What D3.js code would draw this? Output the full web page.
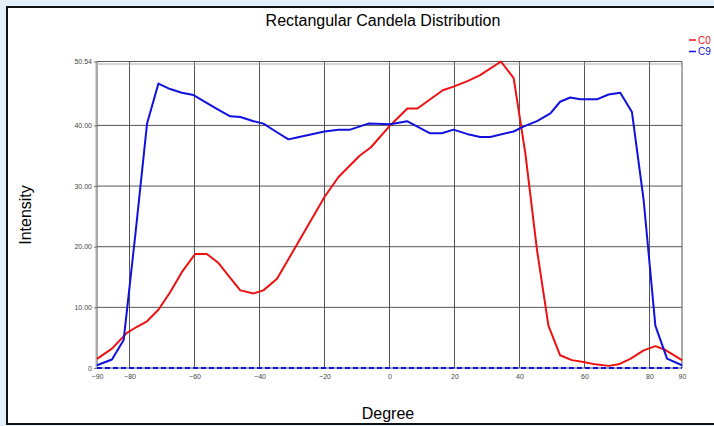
<!DOCTYPE html>
<html>
  <head>
    <meta charset="utf-8" />
    <title>Rectangular Candela Distribution</title>
    <script src="https://d3js.org/d3.v7.min.js"></script>
    <style>
      body { margin: 0; background: #e3eff9; }
      text { font-family: "Liberation Sans", Arial, sans-serif; }
    </style>
  </head>
  <body>
    <script>
      // C0 curve (degree, intensity)
      const c0Deg = [-90, -85.4, -80.8, -77.7, -74.6, -71.1, -67.5, -63.9, -59.8, -56.2, -52.6, -49.2, -45.9, -41.8, -38.8, -34.6, -20, -15.7, -9.2, -5.7, 0.2, 5.5, 8.6, 16.4, 19.7, 24, 27.9, 34.3, 38.2, 41.8, 45.4, 48.9, 52.5, 56.1, 59.7, 63.3, 67.4, 70.5, 74.1, 78.2, 81.8, 84.8, 90];
      const c0Val = [1.5, 3.2, 5.8, 6.8, 7.7, 9.6, 12.5, 15.8, 18.8, 18.8, 17.3, 15.0, 12.8, 12.3, 12.8, 14.7, 28.2, 31.5, 35.0, 36.4, 40.0, 42.8, 42.8, 45.8, 46.4, 47.3, 48.3, 50.54, 47.8, 35.4, 19.4, 7.0, 2.1, 1.3, 1.0, 0.6, 0.35, 0.6, 1.5, 2.9, 3.6, 3.0, 1.3];

      // C9 curve
      const c9Deg = [-90, -85.4, -81.8, -78.2, -74.6, -71.1, -67.5, -63.9, -60.3, -53, -49, -45.9, -41.8, -38.8, -35, -31.1, -28.5, -20, -15.7, -12.1, -6.5, 0.2, 5.4, 12.5, 16.1, 19.7, 23.8, 27.9, 31, 38.2, 41.2, 45.4, 49.5, 52.5, 55.6, 58.7, 63.8, 67.4, 71, 74.6, 78.2, 81.8, 85.4, 90];
      const c9Val = [0.45, 1.4, 4.6, 22, 40.3, 46.9, 46.0, 45.4, 45.0, 42.7, 41.5, 41.4, 40.7, 40.3, 39.0, 37.7, 38.0, 39.0, 39.3, 39.3, 40.3, 40.2, 40.7, 38.7, 38.7, 39.3, 38.6, 38.1, 38.1, 39.0, 39.8, 40.7, 42.0, 43.9, 44.6, 44.3, 44.3, 45.1, 45.4, 42.2, 27.7, 7.0, 1.55, 0.45];

      const xTicks = [-90, -80, -60, -40, -20, 0, 20, 40, 60, 80, 90];
      const yTicks = [0, 10, 20, 30, 40, 50.54];
      const yTickLabels = ["0", "10.00", "20.00", "30.00", "40.00", "50.54"];
      const seriesNames = ["C0", "C9"];
      const seriesColors = ["#ee1111", "#1111dd"];

      const width = 714, height = 426;
      const plot = { left: 97, right: 682, top: 61.5, bottom: 368 };

      const svg = d3.select("body").append("svg")
        .attr("width", width).attr("height", height)
        .style("display", "block");

      // window frame
      svg.append("rect")
        .attr("x", 7).attr("y", 7)
        .attr("width", width).attr("height", 417)
        .attr("fill", "white")
        .attr("stroke", "#111").attr("stroke-width", 2);

      const x = d3.scaleLinear().domain([-90, 90]).range([plot.left, plot.right]);
      const y = d3.scaleLinear().domain([0, 50.54]).range([plot.bottom, plot.top]);

      // grid
      const grid = svg.append("g");
      grid.selectAll(".vg").data(xTicks).join("line")
        .attr("x1", d => x(d)).attr("x2", d => x(d))
        .attr("y1", plot.top).attr("y2", plot.bottom)
        .attr("stroke", "#555").attr("stroke-width", 1);
      grid.selectAll(".hg").data(yTicks).join("line")
        .attr("x1", plot.left).attr("x2", plot.right)
        .attr("y1", d => y(d)).attr("y2", d => y(d))
        .attr("stroke", "#555").attr("stroke-width", 1);
      // top edge looks doubled
      grid.append("line")
        .attr("x1", plot.left).attr("x2", plot.right)
        .attr("y1", plot.top + 2.5).attr("y2", plot.top + 2.5)
        .attr("stroke", "#aaa").attr("stroke-width", 1);
      grid.append("line")
        .attr("x1", plot.left - 1).attr("x2", plot.left - 1)
        .attr("y1", plot.top).attr("y2", plot.bottom)
        .attr("stroke", "#aaa").attr("stroke-width", 1);

      // axes
      const yAxis = svg.append("g")
        .attr("transform", `translate(${plot.left},0)`)
        .call(d3.axisLeft(y).tickValues(yTicks)
          .tickFormat((d, i) => yTickLabels[i]).tickSize(3).tickPadding(2));
      yAxis.select(".domain").remove();
      yAxis.selectAll("line").attr("stroke", "#777");
      yAxis.selectAll("text").attr("font-size", 7).attr("fill", "#444")
        .attr("font-family", "DejaVu Sans");

      const xAxis = svg.append("g")
        .attr("transform", `translate(0,${plot.bottom})`)
        .call(d3.axisBottom(x).tickValues(xTicks).tickSize(0).tickPadding(6));
      xAxis.select(".domain").remove();
      xAxis.selectAll("text").attr("font-size", 7).attr("fill", "#444")
        .attr("font-family", "DejaVu Sans");

      // zero baseline (dashed)
      svg.append("line")
        .attr("x1", plot.left).attr("x2", plot.right)
        .attr("y1", y(0)).attr("y2", y(0))
        .attr("stroke", "#1111dd").attr("stroke-width", 2)
        .attr("stroke-dasharray", "5,3");

      const line = d3.line().x(d => x(d[0])).y(d => y(d[1]));
      const series = [d3.zip(c0Deg, c0Val), d3.zip(c9Deg, c9Val)];
      svg.selectAll(".series").data(series).join("path")
        .attr("d", line)
        .attr("fill", "none")
        .attr("stroke", (d, i) => seriesColors[i])
        .attr("stroke-width", 2)
        .attr("stroke-linejoin", "round");

      // legend
      const legend = svg.selectAll(".leg").data(seriesNames).join("g")
        .attr("transform", (d, i) => `translate(689,${40 + i * 11.5})`);
      legend.append("line")
        .attr("x1", 0).attr("x2", 7)
        .attr("stroke", (d, i) => seriesColors[i]).attr("stroke-width", 1.5);
      legend.append("text")
        .attr("x", 9).attr("dy", "0.35em")
        .attr("font-size", 10)
        .attr("fill", (d, i) => seriesColors[i])
        .text(d => d);

      // titles
      svg.append("text")
        .attr("x", 383).attr("y", 26)
        .attr("text-anchor", "middle").attr("font-size", 16)
        .text("Rectangular Candela Distribution");
      svg.append("text")
        .attr("transform", "translate(31,215) rotate(-90)")
        .attr("text-anchor", "middle").attr("font-size", 16)
        .text("Intensity");
      svg.append("text")
        .attr("x", 388).attr("y", 419)
        .attr("text-anchor", "middle").attr("font-size", 16)
        .text("Degree");
    </script>
  </body>
</html>
